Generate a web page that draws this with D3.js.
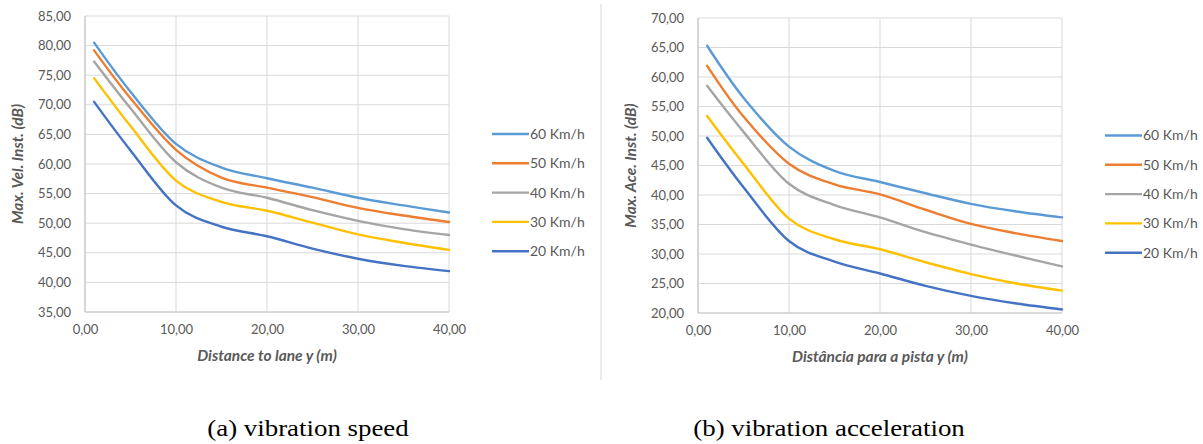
<!DOCTYPE html>
<html>
<head>
<meta charset="utf-8">
<script src="https://cdn.jsdelivr.net/npm/d3@7"></script>
<style>
  body { margin: 0; background: #fff; }
  svg { display: block; }
</style>
</head>
<body>
<div id="chart"></div>
<script>
// distances (m) where the curves were sampled
const distances = [1, 5, 10, 15, 20, 25, 30, 35, 40];

const seriesNames = ['60 Km/h', '50 Km/h', '40 Km/h', '30 Km/h', '20 Km/h'];
const seriesColors = ['#5b9bd5', '#ed7d31', '#a5a5a5', '#ffc000', '#4472c4'];

// (a) vibration speed, dB
const speed60 = [80.5, 72.2, 63.4, 59.4, 57.6, 56.0, 54.3, 53.0, 51.8];
const speed50 = [79.2, 71.1, 62.4, 57.7, 56.0, 54.4, 52.6, 51.3, 50.2];
const speed40 = [77.3, 69.4, 60.3, 56.0, 54.3, 52.2, 50.4, 49.0, 48.0];
const speed30 = [74.5, 66.4, 57.2, 53.6, 52.1, 50.1, 48.1, 46.7, 45.5];
const speed20 = [70.5, 62.3, 53.0, 49.4, 47.8, 45.7, 44.0, 42.8, 41.9];

// (b) vibration acceleration, dB
const accel60 = [65.3, 56.5, 48.2, 44.1, 42.2, 40.3, 38.5, 37.2, 36.2];
const accel50 = [61.9, 53.3, 45.3, 41.8, 40.1, 37.5, 35.1, 33.5, 32.2];
const accel40 = [58.5, 50.7, 41.9, 38.3, 36.2, 33.7, 31.6, 29.7, 27.9];
const accel30 = [53.4, 45.3, 36.0, 32.5, 30.8, 28.6, 26.6, 25.0, 23.8];
const accel20 = [49.7, 41.3, 32.2, 28.7, 26.7, 24.6, 22.9, 21.6, 20.6];

const xTicks = [0, 10, 20, 30, 40];
const speedTicks = [35, 40, 45, 50, 55, 60, 65, 70, 75, 80, 85];
const accelTicks = [20, 25, 30, 35, 40, 45, 50, 55, 60, 65, 70];

const width = 1203, height = 444;
const ptLocale = d3.formatLocale({decimal: ',', thousands: '.', grouping: [3], currency: ['', '']});
const fmt = ptLocale.format('.2f');
const uiFont = 'Lato, "Open Sans", sans-serif';

const svg = d3.select('#chart')
  .append('svg')
  .attr('width', width)
  .attr('height', height);

// panel separator
svg.append('line')
  .attr('x1', 601).attr('x2', 601)
  .attr('y1', 4).attr('y2', 380)
  .style('stroke', '#d9d9d9')
  .style('stroke-width', 1);

function drawPanel(opts) {
  const x = d3.scaleLinear().domain([0, 40]).range([opts.left, opts.right]);
  const y = d3.scaleLinear().domain(opts.yDomain).range([opts.bottom, opts.top]);
  const g = svg.append('g');

  // grid
  g.append('g')
    .selectAll('line.hgrid')
    .data(opts.yTicks)
    .enter().append('line')
    .attr('x1', opts.left).attr('x2', opts.right)
    .attr('y1', d => y(d)).attr('y2', d => y(d))
    .style('stroke', '#d9d9d9').style('stroke-width', 1);

  g.append('g')
    .selectAll('line.vgrid')
    .data(xTicks)
    .enter().append('line')
    .attr('x1', d => x(d)).attr('x2', d => x(d))
    .attr('y1', opts.top).attr('y2', opts.bottom)
    .style('stroke', '#d9d9d9').style('stroke-width', 1);

  // axis lines
  g.append('line')
    .attr('x1', opts.left).attr('x2', opts.left)
    .attr('y1', opts.top).attr('y2', opts.bottom)
    .style('stroke', '#c8c8c8').style('stroke-width', 1.2);
  g.append('line')
    .attr('x1', opts.left).attr('x2', opts.right)
    .attr('y1', opts.bottom).attr('y2', opts.bottom)
    .style('stroke', '#c8c8c8').style('stroke-width', 1.2);

  const yAxis = d3.axisLeft(y).tickValues(opts.yTicks).tickFormat(fmt).tickSize(0).tickPadding(14);
  g.append('g')
    .attr('transform', `translate(${opts.left},0)`)
    .call(yAxis)
    .call(a => a.select('.domain').remove())
    .selectAll('text')
    .style('font-family', uiFont)
    .style('font-size', '13px')
    .style('fill', '#595959');

  const xAxis = d3.axisBottom(x).tickValues(xTicks).tickFormat(fmt).tickSize(0).tickPadding(13);
  g.append('g')
    .attr('transform', `translate(0,${opts.bottom})`)
    .call(xAxis)
    .call(a => a.select('.domain').remove())
    .selectAll('text')
    .style('font-family', uiFont)
    .style('font-size', '13px')
    .style('fill', '#595959');

  // axis titles
  g.append('text')
    .attr('x', (opts.left + opts.right) / 2)
    .attr('y', opts.bottom + 49)
    .attr('text-anchor', 'middle')
    .style('font-family', uiFont)
    .style('font-size', '15.5px')
    .style('font-style', 'italic')
    .style('font-weight', 'bold')
    .style('fill', '#595959')
    .text(opts.xTitle);

  g.append('text')
    .attr('transform', `translate(${opts.yTitleX},${(opts.top + opts.bottom) / 2}) rotate(-90)`)
    .attr('text-anchor', 'middle')
    .style('font-family', uiFont)
    .style('font-size', '15.5px')
    .style('font-style', 'italic')
    .style('font-weight', 'bold')
    .style('fill', '#595959')
    .text(opts.yTitle);

  // curves (Excel style smoothing ~ uniform Catmull-Rom)
  const line = d3.line()
    .x(d => x(d[0]))
    .y(d => y(d[1]))
    .curve(d3.curveCardinal.tension(0));

  g.append('g')
    .selectAll('path.series')
    .data(opts.series)
    .enter().append('path')
    .attr('class', 'series')
    .attr('d', s => line(distances.map((dist, i) => [dist, s[i]])))
    .style('fill', 'none')
    .style('stroke', (s, i) => seriesColors[i])
    .style('stroke-width', 2.4)
    .style('stroke-linecap', 'round');

  // legend
  const legend = g.append('g')
    .selectAll('g.legend-item')
    .data(seriesNames)
    .enter().append('g')
    .attr('transform', (d, i) => `translate(${opts.legendX},${opts.legendY + i * 29.3})`);
  legend.append('line')
    .attr('x1', 0).attr('x2', 37)
    .style('stroke', (d, i) => seriesColors[i])
    .style('stroke-width', 2.4);
  legend.append('text')
    .attr('x', 38)
    .attr('dy', '0.35em')
    .style('font-family', uiFont)
    .style('font-size', '14px')
    .style('fill', '#595959')
    .text(d => d);

  // caption (the source picture is a little stretched sideways)
  svg.append('text')
    .attr('transform', `translate(${opts.captionX},436) scale(1.12,1)`)
    .attr('text-anchor', 'middle')
    .style('font-family', '"Liberation Serif", "Times New Roman", serif')
    .style('font-size', '24px')
    .style('fill', '#000')
    .text(opts.caption);
}

drawPanel({
  left: 85, right: 449, top: 16, bottom: 312,
  yDomain: [35, 85], yTicks: speedTicks,
  series: [speed60, speed50, speed40, speed30, speed20],
  xTitle: 'Distance to lane y (m)',
  yTitle: 'Max. Vel. Inst. (dB)',
  yTitleX: 23,
  legendX: 492, legendY: 134,
  caption: '(a) vibration speed', captionX: 308
});

drawPanel({
  left: 698, right: 1062, top: 18, bottom: 313,
  yDomain: [20, 70], yTicks: accelTicks,
  series: [accel60, accel50, accel40, accel30, accel20],
  xTitle: 'Distância para a pista y (m)',
  yTitle: 'Max. Ace. Inst. (dB)',
  yTitleX: 636,
  legendX: 1105, legendY: 135.5,
  caption: '(b) vibration acceleration', captionX: 829
});
</script>
</body>
</html>
